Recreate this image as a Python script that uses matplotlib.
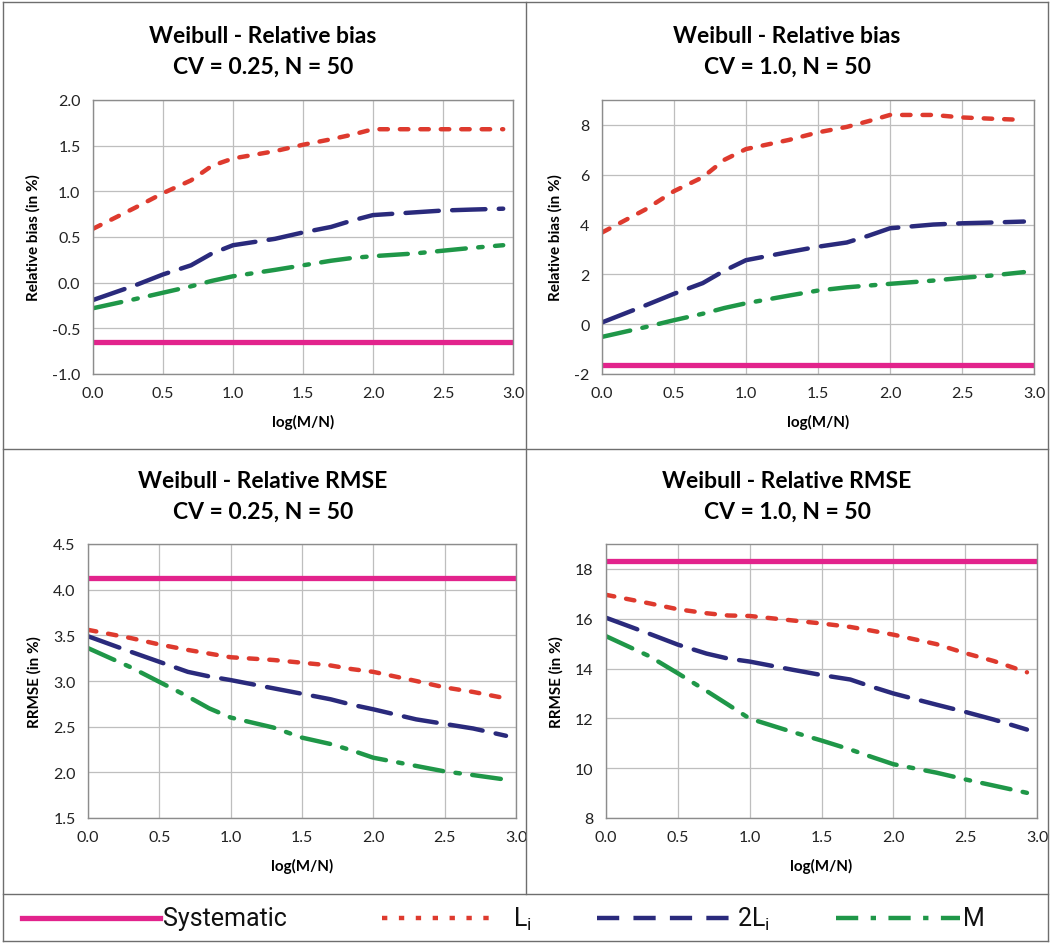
import matplotlib
matplotlib.use("Agg")
import matplotlib.pyplot as plt
from matplotlib.lines import Line2D

plt.rcParams["font.family"] = ["Lato", "DejaVu Sans"]

# log(M/N) sample points
log_mn = [0, 0.3, 0.5, 0.7, 0.85, 1.0, 1.3, 1.5, 1.7, 1.85, 2.0, 2.3, 2.5, 2.7, 2.93]

# Relative bias, CV = 0.25
bias025_sys = -0.65
bias025_li = [0.59, 0.82, 0.98, 1.12, 1.28, 1.36, 1.44, 1.51, 1.57, 1.62, 1.68, 1.68, 1.68, 1.68, 1.68]
bias025_2li = [-0.19, -0.03, 0.09, 0.19, 0.32, 0.41, 0.48, 0.55, 0.61, 0.68, 0.74, 0.77, 0.79, 0.80, 0.81]
bias025_m = [-0.28, -0.18, -0.11, -0.04, 0.02, 0.07, 0.14, 0.19, 0.24, 0.27, 0.29, 0.32, 0.35, 0.38, 0.41]

# Relative bias, CV = 1.0
bias10_sys = -1.65
bias10_li = [3.68, 4.6, 5.34, 5.9, 6.6, 7.03, 7.4, 7.70, 7.92, 8.15, 8.40, 8.40, 8.30, 8.25, 8.2]
bias10_2li = [0.07, 0.75, 1.22, 1.65, 2.15, 2.57, 2.90, 3.11, 3.28, 3.55, 3.85, 4.0, 4.05, 4.08, 4.12]
bias10_m = [-0.51, -0.12, 0.16, 0.42, 0.65, 0.84, 1.15, 1.35, 1.48, 1.55, 1.62, 1.75, 1.86, 1.95, 2.09]

# Relative RMSE, CV = 0.25
rmse025_sys = 4.13
rmse025_li = [3.56, 3.47, 3.40, 3.34, 3.30, 3.26, 3.23, 3.20, 3.17, 3.13, 3.10, 3.00, 2.93, 2.88, 2.81]
rmse025_2li = [3.49, 3.32, 3.21, 3.10, 3.05, 3.01, 2.92, 2.86, 2.80, 2.74, 2.69, 2.58, 2.53, 2.48, 2.40]
rmse025_m = [3.36, 3.15, 2.99, 2.83, 2.70, 2.60, 2.49, 2.38, 2.31, 2.24, 2.16, 2.07, 2.01, 1.97, 1.92]

# Relative RMSE, CV = 1.0
rmse10_sys = 18.31
rmse10_li = [16.96, 16.62, 16.38, 16.22, 16.13, 16.11, 15.93, 15.81, 15.67, 15.52, 15.36, 14.98, 14.62, 14.30, 13.85]
rmse10_2li = [16.04, 15.4, 14.96, 14.6, 14.4, 14.28, 13.95, 13.74, 13.56, 13.27, 13.0, 12.55, 12.26, 11.95, 11.55]
rmse10_m = [15.3, 14.5, 13.81, 13.1, 12.55, 11.99, 11.45, 11.11, 10.75, 10.45, 10.16, 9.82, 9.55, 9.3, 9.01]

xticks = [0.0, 0.5, 1.0, 1.5, 2.0, 2.5, 3.0]

C_SYS = "#E2238C"
C_LI = "#DE3A2E"
C_2LI = "#2A2A7C"
C_M = "#1F9748"
LW = 3.2
DASH_LI = (1.9, 2.7)
DASH_2LI = (7.5, 3.0)
DASH_M = (6.5, 2.8, 1.0, 2.8)

W, H = 1051, 945
fig = plt.figure(figsize=(W / 100, H / 100), dpi=100)


def px_axes(left, top, right, bottom):
    return fig.add_axes([left / W, 1 - bottom / H, (right - left) / W, (bottom - top) / H])


panels = [
    dict(box=(93, 101, 513, 375), cell=(0, 526), title="Weibull - Relative bias\nCV = 0.25, N = 50",
         ylabel="Relative bias (in %)", ylim=(-1.0, 2.0),
         yticks=[-1.0, -0.5, 0.0, 0.5, 1.0, 1.5, 2.0], yfmt="{:.1f}",
         sys=bias025_sys, li=bias025_li, li2=bias025_2li, m=bias025_m),
    dict(box=(602, 101, 1034, 375), cell=(526, 1048), title="Weibull - Relative bias\nCV = 1.0, N = 50",
         ylabel="Relative bias (in %)", ylim=(-2, 9),
         yticks=[-2, 0, 2, 4, 6, 8], yfmt="{:.0f}",
         sys=bias10_sys, li=bias10_li, li2=bias10_2li, m=bias10_m),
    dict(box=(88, 545, 516, 819), cell=(0, 526), title="Weibull - Relative RMSE\nCV = 0.25, N = 50",
         ylabel="RRMSE (in %)", ylim=(1.5, 4.5),
         yticks=[1.5, 2.0, 2.5, 3.0, 3.5, 4.0, 4.5], yfmt="{:.1f}",
         sys=rmse025_sys, li=rmse025_li, li2=rmse025_2li, m=rmse025_m),
    dict(box=(606, 545, 1037, 819), cell=(526, 1048), title="Weibull - Relative RMSE\nCV = 1.0, N = 50",
         ylabel="RRMSE (in %)", ylim=(8, 19),
         yticks=[8, 10, 12, 14, 16, 18], yfmt="{:.0f}",
         sys=rmse10_sys, li=rmse10_li, li2=rmse10_2li, m=rmse10_m),
]

for p in panels:
    l, t, r, b = p["box"]
    ax = px_axes(l, t, r, b)
    ax.set_xlim(0, 3)
    ax.set_ylim(*p["ylim"])
    ax.set_xticks(xticks)
    ax.set_xticklabels(["{:.1f}".format(v) for v in xticks])
    ax.set_yticks(p["yticks"])
    ax.set_yticklabels([p["yfmt"].format(v) for v in p["yticks"]])
    ax.grid(True, color="#BEBEBE", lw=0.9)
    ax.set_axisbelow(True)
    for s in ax.spines.values():
        s.set_color("#8C8C8C")
        s.set_linewidth(1.0)
    ax.tick_params(length=0, labelsize=11.5, colors="#222222", pad=9)

    ax.axhline(p["sys"], color=C_SYS, lw=LW + 0.6, solid_capstyle="butt")
    ax.plot(log_mn, p["li"], color=C_LI, lw=LW, ls=(0, DASH_LI), dash_capstyle="round")
    ax.plot(log_mn, p["li2"], color=C_2LI, lw=LW, ls=(0, DASH_2LI), dash_capstyle="round")
    ax.plot(log_mn, p["m"], color=C_M, lw=LW, ls=(0, DASH_M), dash_capstyle="round")

    ax.set_ylabel(p["ylabel"], fontsize=11, fontweight="bold", labelpad=8)
    ax.set_xlabel("log(M/N)", fontsize=11, fontweight="bold", labelpad=10)
    cx = sum(p["cell"]) / 2
    fig.text(cx / W, 1 - 52 / H - (0 if t < 300 else 445) / H, p["title"],
             ha="center", va="center", fontsize=16.5, fontweight="bold",
             linespacing=1.6)

# frame lines
frame = dict(color="#6E6E6E", lw=1.0)
fig.add_artist(Line2D([3 / W, 1048 / W], [1 - 3 / H, 1 - 3 / H], **frame))
fig.add_artist(Line2D([3 / W, 1048 / W], [1 - 450 / H, 1 - 450 / H], **frame))
fig.add_artist(Line2D([3 / W, 1048 / W], [1 - 895 / H, 1 - 895 / H], **frame))
fig.add_artist(Line2D([3 / W, 1048 / W], [1 - 942 / H, 1 - 942 / H], **frame))
fig.add_artist(Line2D([3 / W, 3 / W], [1 - 3 / H, 1 - 942 / H], **frame))
fig.add_artist(Line2D([1048 / W, 1048 / W], [1 - 3 / H, 1 - 942 / H], **frame))
fig.add_artist(Line2D([526 / W, 526 / W], [1 - 3 / H, 1 - 895 / H], **frame))

# legend row
ly = 1 - 919 / H
leg_font = dict(family=["Roboto", "DejaVu Sans"], fontsize=18,
                va="center", ha="left", color="#111111")
fig.add_artist(Line2D([22 / W, 160 / W], [ly, ly], color=C_SYS, lw=LW + 0.6))
fig.text(163 / W, ly, "Systematic", **leg_font)
fig.add_artist(Line2D([382 / W, 500 / W], [ly, ly], color=C_LI, lw=LW, ls=(0, (1.2, 2.6))))
fig.text(513 / W, ly, r"L$_\mathregular{i}$", **leg_font)
fig.add_artist(Line2D([597 / W, 735 / W], [ly, ly], color=C_2LI, lw=LW, ls=(0, (5, 3.2))))
fig.text(737 / W, ly, r"2L$_\mathregular{i}$", **leg_font)
fig.add_artist(Line2D([836 / W, 960 / W], [ly, ly], color=C_M, lw=LW, ls=(0, (5, 2.8, 1.2, 2.8))))
fig.text(963 / W, ly, "M", **leg_font)

fig.savefig("out.png", dpi=100)
